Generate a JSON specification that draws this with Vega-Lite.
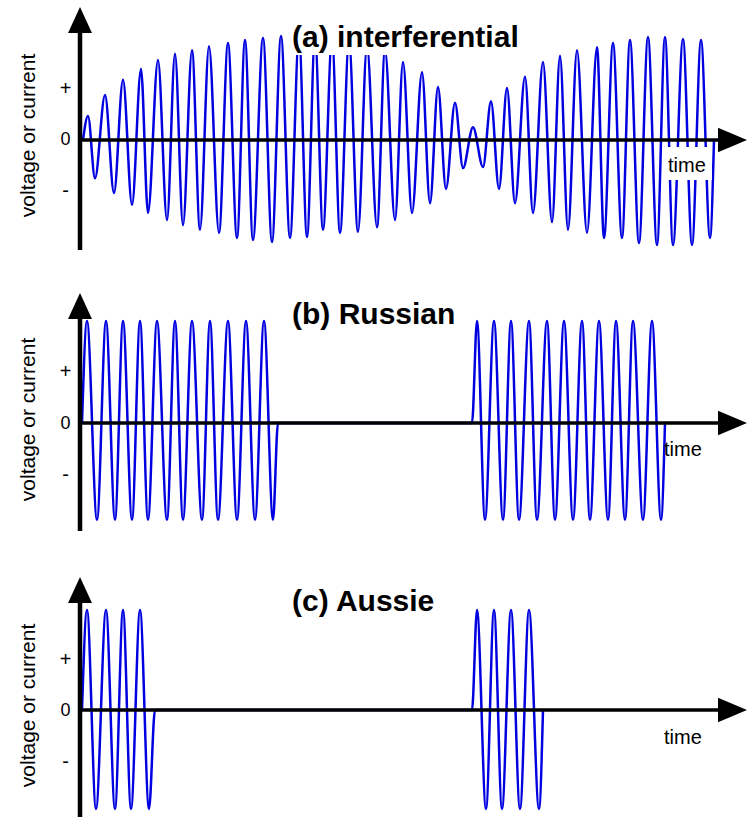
{
  "$schema": "https://vega.github.io/schema/vega-lite/v6.json",
  "padding": {"left": 17, "top": 0, "right": 0, "bottom": 0},
  "background": "white",
  "spacing": 38,
  "config": {"view": {"stroke": null}},
  "datasets": {
    "a": [
      {"t": 3, "v": 0}, {"t": 8, "v": 0.47}, {"t": 15, "v": -0.75}, {"t": 25, "v": 0.88}, {"t": 34, "v": -1.04},
      {"t": 43, "v": 1.18}, {"t": 52, "v": -1.27}, {"t": 61, "v": 1.39}, {"t": 68, "v": -1.43}, {"t": 78, "v": 1.57},
      {"t": 87, "v": -1.57}, {"t": 95, "v": 1.69}, {"t": 103, "v": -1.67}, {"t": 112, "v": 1.76}, {"t": 120, "v": -1.76},
      {"t": 129, "v": 1.84}, {"t": 139, "v": -1.82}, {"t": 148, "v": 1.90}, {"t": 157, "v": -1.92}, {"t": 165, "v": 1.96},
      {"t": 173, "v": -1.96}, {"t": 183, "v": 2.00}, {"t": 192, "v": -2.00}, {"t": 201, "v": 2.04}, {"t": 210, "v": -1.92},
      {"t": 219, "v": 2.04}, {"t": 227, "v": -1.90}, {"t": 235, "v": 2.02}, {"t": 243, "v": -1.76}, {"t": 252, "v": 2.00},
      {"t": 260, "v": -1.82}, {"t": 269, "v": 1.94}, {"t": 278, "v": -1.80}, {"t": 287, "v": 1.84}, {"t": 297, "v": -1.71},
      {"t": 305, "v": 1.76}, {"t": 315, "v": -1.57}, {"t": 323, "v": 1.53}, {"t": 332, "v": -1.43}, {"t": 342, "v": 1.33},
      {"t": 350, "v": -1.24}, {"t": 358, "v": 1.04}, {"t": 366, "v": -0.96}, {"t": 375, "v": 0.73}, {"t": 383, "v": -0.55},
      {"t": 393, "v": 0.25}, {"t": 403, "v": -0.53}, {"t": 411, "v": 0.76}, {"t": 419, "v": -0.96}, {"t": 427, "v": 1.02},
      {"t": 435, "v": -1.24}, {"t": 445, "v": 1.24}, {"t": 453, "v": -1.43}, {"t": 463, "v": 1.53}, {"t": 472, "v": -1.61},
      {"t": 480, "v": 1.65}, {"t": 488, "v": -1.76}, {"t": 497, "v": 1.76}, {"t": 507, "v": -1.82}, {"t": 517, "v": 1.82},
      {"t": 524, "v": -1.92}, {"t": 533, "v": 1.90}, {"t": 542, "v": -1.92}, {"t": 550, "v": 1.96}, {"t": 559, "v": -2.02},
      {"t": 568, "v": 2.02}, {"t": 577, "v": -2.06}, {"t": 585, "v": 2.02}, {"t": 593, "v": -2.06}, {"t": 603, "v": 1.98},
      {"t": 612, "v": -2.06}, {"t": 621, "v": 1.96}, {"t": 630, "v": -1.92}, {"t": 634, "v": 0}
    ],
    "b": [
      {"t": 2, "v": 0}, {"t": 7, "v": 1.98}, {"t": 17, "v": -1.88}, {"t": 26, "v": 1.98}, {"t": 35, "v": -1.88},
      {"t": 43, "v": 1.98}, {"t": 52, "v": -1.88}, {"t": 60, "v": 1.98}, {"t": 68, "v": -1.88}, {"t": 77, "v": 1.98},
      {"t": 87, "v": -1.88}, {"t": 95, "v": 1.98}, {"t": 103, "v": -1.88}, {"t": 112, "v": 1.98}, {"t": 122, "v": -1.88},
      {"t": 130, "v": 1.98}, {"t": 138, "v": -1.88}, {"t": 148, "v": 1.98}, {"t": 157, "v": -1.88}, {"t": 166, "v": 1.98},
      {"t": 175, "v": -1.88}, {"t": 184, "v": 1.98}, {"t": 193, "v": -1.88}, {"t": 198, "v": 0},
      {"t": 392, "v": 0}, {"t": 397, "v": 1.98}, {"t": 405, "v": -1.88}, {"t": 414, "v": 1.98}, {"t": 423, "v": -1.88},
      {"t": 431, "v": 1.98}, {"t": 439, "v": -1.88}, {"t": 449, "v": 1.98}, {"t": 457, "v": -1.88}, {"t": 467, "v": 1.98},
      {"t": 475, "v": -1.88}, {"t": 484, "v": 1.98}, {"t": 493, "v": -1.88}, {"t": 502, "v": 1.98}, {"t": 510, "v": -1.88},
      {"t": 519, "v": 1.98}, {"t": 528, "v": -1.88}, {"t": 536, "v": 1.98}, {"t": 545, "v": -1.88}, {"t": 553, "v": 1.98},
      {"t": 563, "v": -1.88}, {"t": 572, "v": 1.98}, {"t": 581, "v": -1.88}, {"t": 585, "v": 0}
    ],
    "c": [
      {"t": 2, "v": 0}, {"t": 7, "v": 1.96}, {"t": 16, "v": -1.94}, {"t": 26, "v": 1.96}, {"t": 35, "v": -1.94},
      {"t": 43, "v": 1.96}, {"t": 51, "v": -1.94}, {"t": 60, "v": 1.96}, {"t": 69, "v": -1.94}, {"t": 75, "v": 0},
      {"t": 392, "v": 0}, {"t": 397, "v": 1.96}, {"t": 406, "v": -1.94}, {"t": 414, "v": 1.96}, {"t": 422, "v": -1.94},
      {"t": 431, "v": 1.96}, {"t": 440, "v": -1.94}, {"t": 449, "v": 1.96}, {"t": 459, "v": -1.94}, {"t": 463, "v": 0}
    ],
    "one": [{"k": 1}]
  },
  "vconcat": [
    {
      "width": 668, "height": 250,
      "layer": [
        {
          "data": {"name": "a"},
          "mark": {"type": "line", "interpolate": "monotone", "color": "#0000e0", "strokeWidth": 2.5},
          "encoding": {
            "x": {"field": "t", "type": "quantitative", "scale": {"domain": [0, 668], "nice": false, "zero": false}, "axis": null},
            "y": {"field": "v", "type": "quantitative", "scale": {"domain": [-2.157, 2.745], "nice": false, "zero": false},
              "axis": {"values": [-1, 0, 1], "labelExpr": "datum.value > 0 ? '+' : (datum.value < 0 ? '-' : '0')",
                "domain": false, "ticks": false, "grid": false, "labelFont": "Liberation Sans",
                "labelFontSize": {"condition": {"test": "datum.value == 0", "value": 18}, "value": 20},
                "labelColor": "black", "labelAlign": "center", "labelBaseline": "middle", "labelPadding": 15,
                "title": "voltage or current", "titleFont": "Liberation Sans", "titleFontSize": 21, "titleFontWeight": "normal",
                "titleColor": "black", "titlePadding": 21, "titleY": 135}}
          }
        },
        {
          "data": {"name": "one"},
          "mark": {"type": "rect", "color": "white", "opacity": 1},
          "encoding": {
            "x": {"datum": 207, "type": "quantitative"}, "x2": {"datum": 445},
            "y": {"datum": 1.667, "type": "quantitative"}, "y2": {"datum": 2.45}
          }
        },
        {
          "data": {"name": "one"},
          "mark": {"type": "rect", "color": "white", "opacity": 1},
          "encoding": {
            "x": {"datum": 586, "type": "quantitative"}, "x2": {"datum": 632},
            "y": {"datum": -0.784, "type": "quantitative"}, "y2": {"datum": -0.137}
          }
        },
        {
          "data": {"name": "one"},
          "mark": {"type": "rule", "color": "black", "strokeWidth": 4.5},
          "encoding": {
            "x": {"datum": 0, "type": "quantitative"},
            "y": {"datum": -2.157, "type": "quantitative"}, "y2": {"datum": 2.35}
          }
        },
        {
          "data": {"name": "one"},
          "mark": {"type": "rule", "color": "black", "strokeWidth": 3.5},
          "encoding": {
            "x": {"datum": 0, "type": "quantitative"}, "x2": {"datum": 652},
            "y": {"datum": 0, "type": "quantitative"}
          }
        },
        {
          "data": {"name": "one"},
          "mark": {"type": "point", "shape": "M0,-1L-0.92,1L0.92,1Z", "size": 676, "filled": true, "color": "black", "opacity": 1, "strokeWidth": 0},
          "encoding": {
            "x": {"datum": 0, "type": "quantitative"},
            "y": {"datum": 2.353, "type": "quantitative"}
          }
        },
        {
          "data": {"name": "one"},
          "mark": {"type": "point", "shape": "M1,0L-1,-0.85L-1,0.85Z", "size": 841, "filled": true, "color": "black", "opacity": 1, "strokeWidth": 0},
          "encoding": {
            "x": {"datum": 652.5, "type": "quantitative"},
            "y": {"datum": 0, "type": "quantitative"}
          }
        },
        {
          "data": {"name": "one"},
          "mark": {"type": "text", "text": "(a) interferential", "font": "Liberation Sans", "fontWeight": "bold", "fontSize": 30, "align": "left", "baseline": "alphabetic", "color": "black"},
          "encoding": {
            "x": {"datum": 212, "type": "quantitative"},
            "y": {"datum": 1.824, "type": "quantitative"}
          }
        },
        {
          "data": {"name": "one"},
          "mark": {"type": "text", "text": "time", "font": "Liberation Sans", "fontSize": 20, "align": "left", "baseline": "alphabetic", "color": "black"},
          "encoding": {
            "x": {"datum": 588, "type": "quantitative"},
            "y": {"datum": -0.627, "type": "quantitative"}
          }
        }
      ]
    },
    {
      "width": 668, "height": 240,
      "layer": [
        {
          "data": {"name": "b"},
          "mark": {"type": "line", "interpolate": "monotone", "color": "#0000e0", "strokeWidth": 2.5},
          "encoding": {
            "x": {"field": "t", "type": "quantitative", "scale": {"domain": [0, 668], "nice": false, "zero": false}, "axis": null},
            "y": {"field": "v", "type": "quantitative", "scale": {"domain": [-2.097, 2.563], "nice": false, "zero": false},
              "axis": {"values": [-1, 0, 1], "labelExpr": "datum.value > 0 ? '+' : (datum.value < 0 ? '-' : '0')",
                "domain": false, "ticks": false, "grid": false, "labelFont": "Liberation Sans",
                "labelFontSize": {"condition": {"test": "datum.value == 0", "value": 18}, "value": 20},
                "labelColor": "black", "labelAlign": "center", "labelBaseline": "middle", "labelPadding": 15,
                "title": "voltage or current", "titleFont": "Liberation Sans", "titleFontSize": 21, "titleFontWeight": "normal",
                "titleColor": "black", "titlePadding": 21, "titleY": 128}}
          }
        },
        {
          "data": {"name": "one"},
          "mark": {"type": "rule", "color": "black", "strokeWidth": 4.5},
          "encoding": {
            "x": {"datum": 0, "type": "quantitative"},
            "y": {"datum": -2.097, "type": "quantitative"}, "y2": {"datum": 2.27}
          }
        },
        {
          "data": {"name": "one"},
          "mark": {"type": "rule", "color": "black", "strokeWidth": 3.5},
          "encoding": {
            "x": {"datum": 0, "type": "quantitative"}, "x2": {"datum": 652},
            "y": {"datum": 0, "type": "quantitative"}
          }
        },
        {
          "data": {"name": "one"},
          "mark": {"type": "point", "shape": "M0,-1L-0.92,1L0.92,1Z", "size": 676, "filled": true, "color": "black", "opacity": 1, "strokeWidth": 0},
          "encoding": {
            "x": {"datum": 0, "type": "quantitative"},
            "y": {"datum": 2.272, "type": "quantitative"}
          }
        },
        {
          "data": {"name": "one"},
          "mark": {"type": "point", "shape": "M1,0L-1,-0.85L-1,0.85Z", "size": 841, "filled": true, "color": "black", "opacity": 1, "strokeWidth": 0},
          "encoding": {
            "x": {"datum": 652.5, "type": "quantitative"},
            "y": {"datum": 0, "type": "quantitative"}
          }
        },
        {
          "data": {"name": "one"},
          "mark": {"type": "text", "text": "(b) Russian", "font": "Liberation Sans", "fontWeight": "bold", "fontSize": 30, "align": "left", "baseline": "alphabetic", "color": "black"},
          "encoding": {
            "x": {"datum": 212, "type": "quantitative"},
            "y": {"datum": 1.922, "type": "quantitative"}
          }
        },
        {
          "data": {"name": "one"},
          "mark": {"type": "text", "text": "time", "font": "Liberation Sans", "fontSize": 20, "align": "left", "baseline": "alphabetic", "color": "black"},
          "encoding": {
            "x": {"datum": 584, "type": "quantitative"},
            "y": {"datum": -0.641, "type": "quantitative"}
          }
        }
      ]
    },
    {
      "width": 668, "height": 247,
      "layer": [
        {
          "data": {"name": "c"},
          "mark": {"type": "line", "interpolate": "monotone", "color": "#0000e0", "strokeWidth": 2.5},
          "encoding": {
            "x": {"field": "t", "type": "quantitative", "scale": {"domain": [0, 668], "nice": false, "zero": false}, "axis": null},
            "y": {"field": "v", "type": "quantitative", "scale": {"domain": [-2.137, 2.706], "nice": false, "zero": false},
              "axis": {"values": [-1, 0, 1], "labelExpr": "datum.value > 0 ? '+' : (datum.value < 0 ? '-' : '0')",
                "domain": false, "ticks": false, "grid": false, "labelFont": "Liberation Sans",
                "labelFontSize": {"condition": {"test": "datum.value == 0", "value": 18}, "value": 20},
                "labelColor": "black", "labelAlign": "center", "labelBaseline": "middle", "labelPadding": 15,
                "title": "voltage or current", "titleFont": "Liberation Sans", "titleFontSize": 21, "titleFontWeight": "normal",
                "titleColor": "black", "titlePadding": 21, "titleY": 133}}
          }
        },
        {
          "data": {"name": "one"},
          "mark": {"type": "rule", "color": "black", "strokeWidth": 4.5},
          "encoding": {
            "x": {"datum": 0, "type": "quantitative"},
            "y": {"datum": -2.137, "type": "quantitative"}, "y2": {"datum": 2.35}
          }
        },
        {
          "data": {"name": "one"},
          "mark": {"type": "rule", "color": "black", "strokeWidth": 3.5},
          "encoding": {
            "x": {"datum": 0, "type": "quantitative"}, "x2": {"datum": 652},
            "y": {"datum": 0, "type": "quantitative"}
          }
        },
        {
          "data": {"name": "one"},
          "mark": {"type": "point", "shape": "M0,-1L-0.92,1L0.92,1Z", "size": 676, "filled": true, "color": "black", "opacity": 1, "strokeWidth": 0},
          "encoding": {
            "x": {"datum": 0, "type": "quantitative"},
            "y": {"datum": 2.353, "type": "quantitative"}
          }
        },
        {
          "data": {"name": "one"},
          "mark": {"type": "point", "shape": "M1,0L-1,-0.85L-1,0.85Z", "size": 841, "filled": true, "color": "black", "opacity": 1, "strokeWidth": 0},
          "encoding": {
            "x": {"datum": 652.5, "type": "quantitative"},
            "y": {"datum": 0, "type": "quantitative"}
          }
        },
        {
          "data": {"name": "one"},
          "mark": {"type": "text", "text": "(c) Aussie", "font": "Liberation Sans", "fontWeight": "bold", "fontSize": 30, "align": "left", "baseline": "alphabetic", "color": "black"},
          "encoding": {
            "x": {"datum": 212, "type": "quantitative"},
            "y": {"datum": 1.941, "type": "quantitative"}
          }
        },
        {
          "data": {"name": "one"},
          "mark": {"type": "text", "text": "time", "font": "Liberation Sans", "fontSize": 20, "align": "left", "baseline": "alphabetic", "color": "black"},
          "encoding": {
            "x": {"datum": 584, "type": "quantitative"},
            "y": {"datum": -0.667, "type": "quantitative"}
          }
        }
      ]
    }
  ]
}
